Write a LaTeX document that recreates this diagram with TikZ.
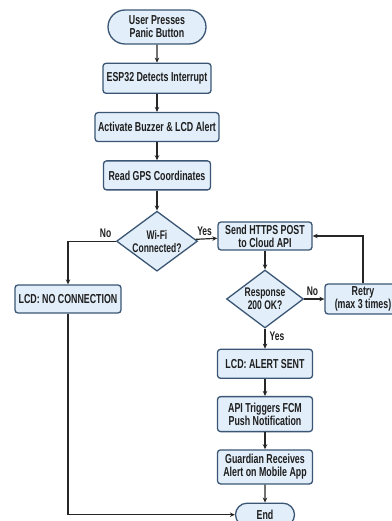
\documentclass[tikz,border=0pt]{standalone}
\usepackage{fontspec}
\usepackage{xcolor}
\usepackage{tikz}
\usetikzlibrary{shapes.geometric, shapes.misc, arrows.meta, positioning}
\newfontfamily\flowfont{Liberation Sans}[FakeStretch=0.68]
\definecolor{boxfill}{RGB}{226, 238, 249}
\definecolor{boxedge}{RGB}{58, 86, 116}
\definecolor{inktext}{RGB}{30, 30, 30}

\begin{document}
\begin{tikzpicture}[
    x=1pt, y=1pt,
    stepbox/.style={rectangle, draw=boxedge, fill=boxfill, line width=1.3pt,
                rounded corners=3pt, minimum height=29pt, inner xsep=3pt, inner ysep=2pt,
                align=center, text=inktext, font=\flowfont\bfseries\fontsize{13}{13}\selectfont},
    term/.style={rounded rectangle, draw=boxedge, fill=boxfill, line width=1.3pt,
                inner xsep=3pt, inner ysep=2pt,
                align=center, text=inktext, font=\flowfont\bfseries\fontsize{13}{13}\selectfont},
    decide/.style={diamond, draw=boxedge, fill=boxfill, line width=1.3pt, aspect=1.35,
                inner sep=0pt, align=center, text=inktext,
                font=\flowfont\bfseries\fontsize{12.5}{13}\selectfont},
    arrow/.style={-{Stealth[length=5pt, width=4.5pt]}, line width=1.2pt, draw=black!85},
    lbl/.style={inner sep=1pt, text=inktext, font=\flowfont\bfseries\fontsize{12.5}{13}\selectfont},
]
    \useasboundingbox (0,0) rectangle (391,-521);

    \node[term, minimum width=104pt, minimum height=34pt] (start) at (157,-27) {User Presses\\Panic Button};
    \node[stepbox, minimum width=108pt, minimum height=30pt, below=18pt of start] (detect) {ESP32 Detects Interrupt};
    \node[stepbox, minimum width=114pt, below=18pt of detect] (buzz) {Activate Buzzer \& LCD Alert};
    \node[stepbox, minimum width=107pt, below=18pt of buzz] (gps) {Read GPS Coordinates};
    \node[decide, minimum width=81pt, minimum height=60pt, below=20pt of gps] (wifi) {Wi-Fi\\Connected?};
    \node[stepbox, minimum width=94pt, minimum height=28pt] (send) at (265,-236) {Send HTTPS POST\\to Cloud API};
    \node[stepbox, minimum width=106pt, minimum height=28pt] (nocon) at (68,-299) {LCD: NO CONNECTION};
    \node[decide, minimum width=77pt, minimum height=58pt] (resp) at (265,-299) {Response\\200 OK?};
    \node[stepbox, minimum width=76pt, minimum height=30pt] (retry) at (363,-299) {Retry\\(max 3 times)};
    \node[stepbox, minimum width=95pt, below=20pt of resp] (sent) {LCD: ALERT SENT};
    \node[stepbox, minimum width=95pt, minimum height=35pt, below=17pt of sent] (fcm) {API Triggers FCM\\Push Notification};
    \node[stepbox, minimum width=95pt, minimum height=34pt, below=17pt of fcm] (guard) {Guardian Receives\\Alert on Mobile App};
    \node[term, minimum width=65pt, minimum height=23pt, below=18pt of guard] (end) {End};

    \draw[arrow] (start) -- (detect);
    \draw[arrow] (detect) -- (buzz);
    \draw[arrow] (buzz) -- (gps);
    \draw[arrow] (gps) -- (wifi);
    \draw[arrow] (wifi) -- node[lbl, pos=0, anchor=south west, yshift=2pt] {Yes} (send);
    \draw[arrow] (wifi.west) -| node[lbl, pos=0, anchor=south east, xshift=-3pt, yshift=2pt] {No} (nocon.north);
    \draw[arrow] (send) -- (resp);
    \draw[arrow] (resp) -- node[lbl, pos=0, anchor=south west, xshift=1pt, yshift=2pt] {No} (retry);
    \draw[arrow] (retry.north) |- (send.east);
    \draw[arrow] (resp) -- node[lbl, pos=0, anchor=north west, xshift=3pt, yshift=-2pt] {Yes} (sent);
    \draw[arrow] (sent) -- (fcm);
    \draw[arrow] (fcm) -- (guard);
    \draw[arrow] (guard) -- (end);
    \draw[arrow] (nocon.south) |- (end.west);
\end{tikzpicture}
\end{document}
